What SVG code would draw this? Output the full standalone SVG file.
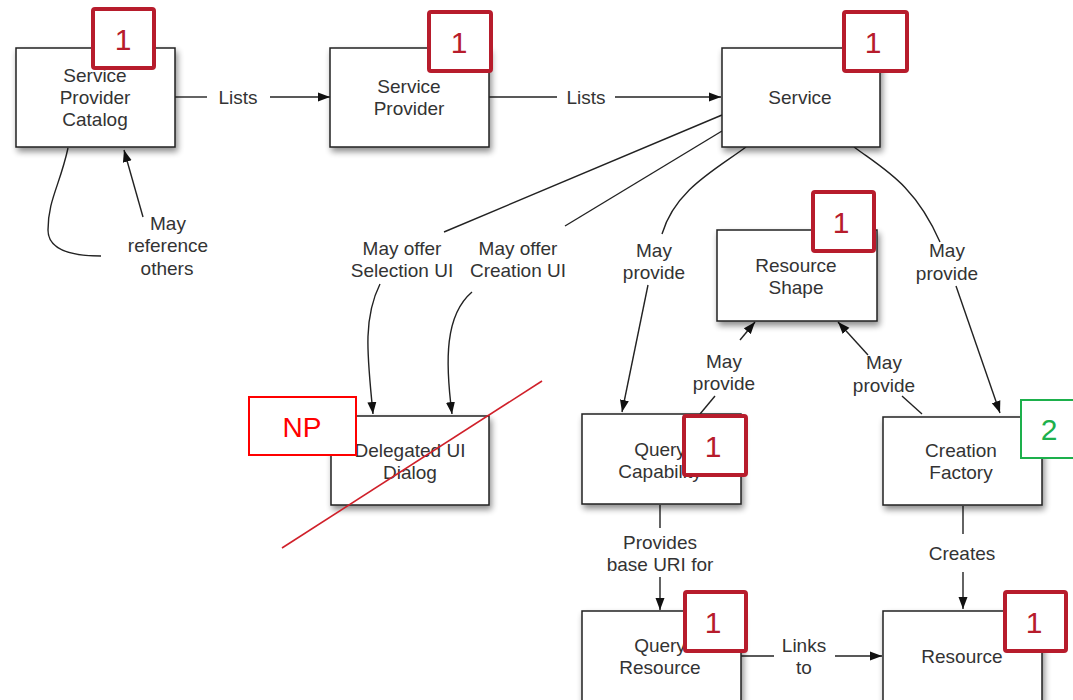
<svg xmlns="http://www.w3.org/2000/svg" width="1073" height="700" viewBox="0 0 1073 700">
<style>
.box{fill:#fff;stroke:#222;stroke-width:1.5;filter:url(#sh)}
.t{font-family:"Liberation Sans",Arial,sans-serif;font-size:19px;fill:#333;text-anchor:middle}
.c{fill:none;stroke:#222;stroke-width:1.4}
.ar{marker-end:url(#ah)}
.badge{fill:#fff;stroke:#b71c2c;stroke-width:4}
.bt{font-family:"Liberation Sans",Arial,sans-serif;font-size:30px;fill:#b71c2c;text-anchor:middle}
</style>
<defs>
<filter id="sh" x="-10%" y="-10%" width="130%" height="140%">
<feGaussianBlur in="SourceAlpha" stdDeviation="3"/>
<feOffset dx="2" dy="4" result="o"/>
<feComponentTransfer><feFuncA type="linear" slope="0.45"/></feComponentTransfer>
<feMerge><feMergeNode/><feMergeNode in="SourceGraphic"/></feMerge>
</filter>
<marker id="ah" viewBox="0 0 12 10" refX="12" refY="5" markerWidth="12" markerHeight="10" markerUnits="userSpaceOnUse" orient="auto">
<path d="M0,0.5 L12,5 L0,9.5 z" fill="#111"/>
</marker>
</defs>
<rect width="1073" height="700" fill="#fff"/>

<g id="connectors">
<!-- Catalog -> SP -->
<path class="c" d="M175,97 H207"/>
<text class="t" x="238" y="104">Lists</text>
<path class="c ar" d="M270,97 H330"/>
<!-- SP -> Service -->
<path class="c" d="M489,97 H557"/>
<text class="t" x="586" y="104">Lists</text>
<path class="c ar" d="M615,97 H721"/>
<!-- self loop -->
<path class="c" d="M68,148 C60,185 48,200 48,230 C48,250 70,256 101,256"/>
<path class="c ar" d="M143,217 L124,150"/>
<text class="t" x="168" y="230">May</text>
<text class="t" x="168" y="252">reference</text>
<text class="t" x="167" y="275">others</text>
<!-- Service -> Delegated (selection) -->
<path class="c" d="M722,115 L444,232"/>
<text class="t" x="402" y="255">May offer</text>
<text class="t" x="402" y="277">Selection UI</text>
<path class="c ar" d="M380,284 C362,320 368,360 373,414"/>
<!-- Service -> Delegated (creation) -->
<path class="c" d="M722,131 L565,226"/>
<text class="t" x="518" y="255">May offer</text>
<text class="t" x="518" y="277">Creation UI</text>
<path class="c ar" d="M472,292 C445,315 445,360 452,414"/>
<!-- Service -> Query Capability -->
<path class="c" d="M746,147 C715,170 675,190 662,234"/>
<text class="t" x="654" y="257">May</text>
<text class="t" x="654" y="279">provide</text>
<path class="c ar" d="M648,285 L622,412"/>
<!-- Service -> Creation Factory -->
<path class="c" d="M854,147 C885,170 915,185 940,242"/>
<text class="t" x="947" y="257">May</text>
<text class="t" x="947" y="280">provide</text>
<path class="c ar" d="M956,286 L1000,413"/>
<!-- QC -> Resource Shape -->
<path class="c" d="M700,414 L715,396"/>
<text class="t" x="724" y="368">May</text>
<text class="t" x="724" y="390">provide</text>
<path class="c ar" d="M740,340 L755,322"/>
<!-- CF -> Resource Shape -->
<path class="c" d="M922,414 L902,396"/>
<text class="t" x="884" y="369">May</text>
<text class="t" x="884" y="392">provide</text>
<path class="c ar" d="M868,355 L838,322"/>
<!-- QC -> Query Resource -->
<path class="c" d="M660,505 V528"/>
<text class="t" x="660" y="549">Provides</text>
<text class="t" x="660" y="571">base URI for</text>
<path class="c ar" d="M660,577 V610"/>
<!-- CF -> Resource -->
<path class="c" d="M963,506 V534"/>
<text class="t" x="962" y="560">Creates</text>
<path class="c ar" d="M963,572 V609"/>
<!-- QR -> Resource -->
<path class="c" d="M741,656 H774"/>
<text class="t" x="804" y="652">Links</text>
<text class="t" x="804" y="674">to</text>
<path class="c ar" d="M835,656 H882"/>
</g>

<g id="catalog">
<rect class="box" x="16" y="48" width="159" height="99"/>
<text class="t" x="95" y="82">Service</text>
<text class="t" x="95" y="104">Provider</text>
<text class="t" x="95" y="126">Catalog</text>
<rect class="badge" x="93" y="9" width="61" height="59" rx="2"/>
<text class="bt" x="123" y="50">1</text>
</g>

<g id="service-provider">
<rect class="box" x="330" y="48" width="159" height="99"/>
<text class="t" x="409" y="93">Service</text>
<text class="t" x="409" y="115">Provider</text>
<rect class="badge" x="429" y="12" width="62" height="59" rx="2"/>
<text class="bt" x="459" y="53">1</text>
</g>

<g id="service">
<rect class="box" x="722" y="48" width="158" height="99"/>
<text class="t" x="800" y="104">Service</text>
<rect class="badge" x="844" y="12" width="63" height="59" rx="2"/>
<text class="bt" x="873" y="53">1</text>
</g>

<g id="resource-shape">
<rect class="box" x="717" y="230" width="160" height="91"/>
<text class="t" x="796" y="272">Resource</text>
<text class="t" x="796" y="294">Shape</text>
<rect class="badge" x="813" y="192" width="61" height="59" rx="2"/>
<text class="bt" x="841" y="233">1</text>
</g>

<g id="delegated-ui">
<rect class="box" x="331" y="416" width="158" height="89"/>
<text class="t" x="410" y="457">Delegated UI</text>
<text class="t" x="410" y="479">Dialog</text>
<rect x="249" y="397" width="107" height="58" fill="#fff" stroke="#f00" stroke-width="2"/>
<text x="302" y="437" font-family="Liberation Sans,Arial,sans-serif" font-size="28" fill="#f00" text-anchor="middle">NP</text>
<path d="M542,381 L282,548" stroke="#d0202a" stroke-width="1.6" fill="none"/>
</g>

<g id="query-capability">
<rect class="box" x="582" y="414" width="159" height="90"/>
<text class="t" x="660" y="456">Query</text>
<text class="t" x="660" y="478">Capability</text>
<rect class="badge" x="684" y="416" width="62" height="59" rx="2"/>
<text class="bt" x="713" y="457">1</text>
</g>

<g id="creation-factory">
<rect class="box" x="883" y="417" width="159" height="88"/>
<text class="t" x="961" y="457">Creation</text>
<text class="t" x="961" y="479">Factory</text>
<rect x="1021" y="400" width="56" height="58" fill="#fff" stroke="#1db04c" stroke-width="2"/>
<text x="1049" y="440" font-family="Liberation Sans,Arial,sans-serif" font-size="30" fill="#1db04c" text-anchor="middle">2</text>
</g>

<g id="query-resource">
<rect class="box" x="582" y="611" width="159" height="99"/>
<text class="t" x="660" y="652">Query</text>
<text class="t" x="660" y="674">Resource</text>
<rect class="badge" x="685" y="592" width="61" height="59" rx="2"/>
<text class="bt" x="713" y="633">1</text>
</g>

<g id="resource">
<rect class="box" x="883" y="611" width="159" height="99"/>
<text class="t" x="962" y="663">Resource</text>
<rect class="badge" x="1005" y="592" width="61" height="59" rx="2"/>
<text class="bt" x="1034" y="633">1</text>
</g>
</svg>
